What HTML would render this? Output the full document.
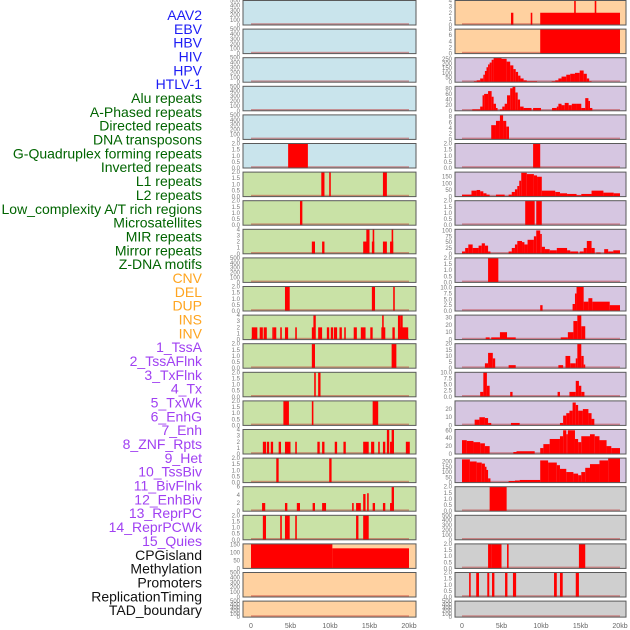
<!DOCTYPE html>
<html><head><meta charset="utf-8"><style>
html,body{margin:0;padding:0;background:#fff;}
svg{display:block;}
</style></head><body>
<svg id="chart" width="630" height="630" viewBox="0 0 630 630" xmlns="http://www.w3.org/2000/svg"></svg>
<script>
const labels = ["AAV2","EBV","HBV","HIV","HPV","HTLV-1","Alu repeats","A-Phased repeats","Directed repeats","DNA transposons","G-Quadruplex forming repeats","Inverted repeats","L1 repeats","L2 repeats","Low_complexity A/T rich regions","Microsatellites","MIR repeats","Mirror repeats","Z-DNA motifs","CNV","DEL","DUP","INS","INV","1_TssA","2_TssAFlnk","3_TxFlnk","4_Tx","5_TxWk","6_EnhG","7_Enh","8_ZNF_Rpts","9_Het","10_TssBiv","11_BivFlnk","12_EnhBiv","13_ReprPC","14_ReprPCWk","15_Quies","CPGisland","Methylation","Promoters","ReplicationTiming","TAD_boundary"];
const labelColors = ["#1c1cf5","#006400","#ffa520","#a040f2","#111111"];
const labelGroups = [0,0,0,0,0,0,1,1,1,1,1,1,1,1,1,1,1,1,1,2,2,2,2,2,3,3,3,3,3,3,3,3,3,3,3,3,3,3,3,4,4,4,4,4];

const ticksEmpty = ["0","100","200","300","400","500"];
const ticksBin = ["0.0","0.5","1.0","1.5","2.0"];

// segments: [startKb, endKb, value]
const aav2 = [], ebv = [], hbv = [], hiv = [], hpv = [];
const htlv1 = [[4.7,7.2,2]];
const alu = [[8.9,9.3,2],[9.9,10.1,2],[16.7,17.2,2]];
const aphased = [[6.2,6.5,2]];
const directed = [[7.7,8.1,2],[9.0,9.3,2],[14.2,14.7,2],[14.6,15.0,4],[15.3,15.6,2],[15.4,15.6,4],[16.7,17.2,2],[17.6,18.0,2],[17.8,18.0,4]];
const dnaTrans = [];
const gquad = [[4.3,4.9,2],[15.3,15.7,2],[18.0,18.2,2]];
const inverted = [[0.1,0.8,2],[1.1,1.5,2],[1.6,2.0,2],[2.7,2.9,2],[2.9,3.2,2],[3.7,3.9,2],[4.3,4.7,2],[5.6,5.8,2],[7.7,8.1,2],[7.9,8.2,4],[8.5,9.0,2],[9.6,9.9,2],[10.1,10.4,2],[10.5,10.9,2],[11.2,11.5,2],[11.8,12.0,2],[13.0,13.4,2],[13.9,14.5,2],[15.1,15.4,2],[16.5,17.0,2],[16.6,16.8,4],[17.9,18.2,2],[18.7,19.9,2],[18.6,18.9,4],[18.9,19.2,4]];
const l1 = [[7.7,8.1,2],[17.8,18.4,2]];
const l2 = [[8.0,8.2,2],[8.5,8.8,2]];
const lowComplex = [[4.1,4.8,2],[7.7,7.9,2],[15.4,16.1,2]];
const microsat = [[1.5,1.9,2],[2.0,2.3,2],[2.5,2.8,2],[3.5,3.8,2],[4.3,5.0,2],[5.6,5.8,2],[8.4,8.7,2],[9.0,9.3,2],[10.6,10.9,2],[11.7,12.0,2],[14.2,14.9,2],[15.2,15.6,2],[16.1,16.3,2],[16.7,17.0,2],[17.2,17.5,4],[17.6,18.0,2],[17.8,18.1,4],[19.6,20.1,2]];
const mir = [[3.2,3.5,2],[9.9,10.2,2]];
const mirror = [[1.4,1.8,2],[4.3,4.6,2],[5.8,6.2,2],[7.8,8.1,2],[9.0,9.5,2],[12.8,13.0,2],[13.3,13.9,2],[14.2,14.5,4.2],[14.7,14.9,4.4],[15.4,15.7,2],[16.7,17.0,2],[17.6,17.9,2],[17.8,18.1,6]];
const zdna = [[1.5,1.9,2],[3.7,3.9,2],[4.3,4.9,2],[5.6,5.8,2],[13.3,13.6,2],[14.2,14.9,2]];
const cnv = [[0,10.3,155],[10.3,20,127]];
const del = [], dup = [];
const ins = [[6.2,6.5,2],[8.7,8.9,2],[9.9,20,2],[14.2,14.4,4],[16.8,17.0,4]];
const inv = [[9.9,20,8]];
const tssA = [[1.5,1.86,10],[1.86,2.3,20],[2.3,2.7,40],[2.7,2.9,80],[2.9,3.1,120],[3.1,3.3,160],[3.3,3.5,190],[3.5,3.75,210],[3.75,4.0,240],[4.0,5.0,260],[5.0,5.65,250],[5.65,6.1,220],[6.1,6.5,180],[6.5,6.8,140],[6.8,7.1,110],[7.1,7.4,70],[7.4,7.8,40],[7.8,8.2,20],[8.2,9.5,10],[11.35,11.8,10],[11.8,12.2,20],[12.2,12.6,40],[12.6,13.2,60],[13.2,13.7,80],[13.7,14.3,90],[14.3,14.9,100],[14.9,15.4,125],[15.4,15.8,90],[15.8,16.1,40],[16.1,16.4,10]];
const tssAFlnk = [[1.3,2.3,5],[2.3,2.6,15],[2.6,2.8,55],[2.8,3.3,60],[3.3,3.75,70],[3.75,4.0,50],[4.0,4.3,25],[4.3,4.5,10],[4.8,5.1,5],[5.1,5.4,15],[5.4,5.7,25],[5.7,6.1,55],[6.1,6.4,80],[6.4,6.75,85],[6.75,7.05,65],[7.05,7.35,40],[7.35,7.8,15],[7.8,8.8,10],[9.0,10.0,10],[11.4,12.0,10],[12.0,12.2,15],[12.2,12.6,25],[12.6,13.0,20],[13.0,13.5,28],[13.5,13.9,20],[13.9,14.5,25],[14.5,15.1,25],[15.1,15.6,10],[15.6,16.0,45],[16.0,16.2,35],[16.2,16.5,10]];
const txFlnk = [[3.7,4.3,5],[4.3,4.8,6.5],[4.8,5.2,8.5],[5.2,5.6,6.5],[5.6,5.95,4.5]];
const tx = [[9.0,9.9,2]];
const txWk = [[0,1.2,15],[1.2,1.85,45],[1.85,2.3,50],[2.3,2.7,40],[2.7,3.1,25],[3.1,3.5,15],[4.3,5.4,15],[5.9,6.3,15],[6.3,6.7,35],[6.7,7.0,55],[7.0,7.25,80],[7.25,7.5,120],[7.5,8.2,180],[8.2,9.1,170],[9.1,9.5,160],[9.5,10.1,150],[10.1,11.8,45],[11.8,12.4,35],[12.4,13.3,25],[13.3,14.5,20],[14.5,15.1,10],[15.1,16.4,20],[16.4,17.9,45],[17.9,19.2,30],[19.2,20,25]];
const enhG = [[8.0,9.2,2],[9.4,10.1,2]];
const enh = [[0,0.4,10],[0.4,0.8,25],[0.8,1.35,40],[1.35,2.1,25],[2.1,2.5,35],[2.5,2.9,45],[2.9,3.3,35],[3.3,3.6,10],[5.9,6.3,10],[6.3,6.7,25],[6.7,7.0,40],[7.0,7.6,55],[7.6,7.9,50],[7.9,8.3,40],[8.3,9.1,60],[9.1,9.4,75],[9.4,9.9,100],[9.9,10.1,85],[10.1,10.5,30],[10.5,11.1,20],[11.1,12.0,15],[12.0,13.3,25],[13.3,13.7,15],[13.7,14.7,10],[14.9,15.4,10],[15.4,15.8,25],[15.8,16.4,55],[16.4,16.8,25],[17.0,17.55,5],[18.0,18.5,20],[18.5,19.15,10],[19.15,20,15]];
const znf = [[3.3,4.6,2]];
const het = [[9.9,10.2,2.5],[14.0,14.3,3],[14.3,14.5,7.5],[14.5,15.4,10.5],[15.4,16.0,4],[16.0,16.5,5.5],[16.5,18.7,4],[18.7,20,2.5]];
const tssBiv = [[3.0,3.5,3],[3.7,4.8,3],[4.8,5.7,10],[5.7,6.8,3],[12.5,13.4,3],[13.4,14.1,10],[14.1,14.6,25],[14.6,15.1,33],[15.1,15.6,18]];
const bivFlnk = [[2.9,3.3,4],[3.3,3.9,12.5],[3.9,4.2,8],[5.9,6.8,2.5],[12.2,12.8,2.5],[13.1,13.7,10],[13.7,14.4,4],[14.4,14.6,8],[14.6,15.1,20],[15.1,15.4,10],[15.4,15.6,3]];
const enhBiv = [[2.3,2.7,2],[2.7,3.15,10],[3.15,3.5,4.5],[6.1,6.4,2],[12.1,12.4,2],[13.6,14.4,2],[14.4,14.8,6.5],[14.8,15.1,4.5],[15.1,15.5,2]];
const reprPC = [[1.6,2.2,7],[2.2,2.9,10],[2.9,3.3,9],[3.3,3.7,3],[6.2,7.3,3],[12.4,12.8,3],[12.8,13.2,12],[13.2,13.6,15],[13.6,14.0,18],[14.0,14.4,28],[14.4,14.7,25],[14.7,15.3,18],[15.3,16.0,20],[16.0,16.4,15],[16.4,16.75,8]];
const reprPCWk = [[0,0.6,35],[0.6,1.45,33],[1.45,2.3,30],[2.3,2.9,27],[2.9,3.5,20],[6.5,6.9,5],[6.9,9.2,7],[9.9,10.3,15],[10.3,11.1,25],[11.1,12.4,38],[12.4,12.8,45],[12.8,13.2,60],[13.2,13.4,50],[13.4,14.3,60],[14.3,14.7,38],[14.7,15.1,30],[15.1,16.2,45],[16.2,16.8,50],[16.8,17.4,45],[17.4,18.3,35],[18.3,18.9,20],[18.9,20,15]];
const quies = [[0,1.0,220],[1.0,1.85,200],[1.85,2.5,190],[2.5,2.9,180],[2.9,3.1,150],[3.1,3.3,120],[3.3,3.6,40],[5.9,6.7,15],[6.7,7.3,20],[7.3,9.9,25],[9.9,10.9,210],[10.9,12.0,190],[12.0,12.4,165],[12.4,13.2,130],[13.2,14.1,100],[14.1,14.7,85],[14.7,15.1,70],[15.1,15.6,100],[15.6,16.2,140],[16.2,17.4,175],[17.4,18.5,210],[18.5,20,230]];
const cpg = [[3.5,5.65,2]];
const methylation = [];
const promoters = [[3.3,3.75,2],[3.75,5.0,2],[5.7,5.9,2],[14.8,15.6,2]];
const repTiming = [[0.9,1.1,2],[1.8,2.15,2],[3.2,3.45,2],[3.8,4.1,2],[5.45,5.75,2],[6.45,6.85,2],[11.65,12.0,2],[12.4,12.75,2],[14.4,14.8,2]];
const tad = [];

const trackData = [aav2,ebv,hbv,hiv,hpv,htlv1,alu,aphased,directed,dnaTrans,gquad,inverted,l1,l2,lowComplex,microsat,mir,mirror,zdna,cnv,del,dup,
  ins,inv,tssA,tssAFlnk,txFlnk,tx,txWk,enhG,enh,znf,het,tssBiv,bivFlnk,enhBiv,reprPC,reprPCWk,quies,cpg,methylation,promoters,repTiming,tad];
const trackMax = [500,500,500,500,500,2,2,2,4,500,2,4,2,2,2,4,2,6,2,155,500,500,
  4,8,262,87,8.6,2,185,2,105,2,10.5,33,20,10,30,62,232,2,500,2,2,500];
const trackTicks = [ticksEmpty,ticksEmpty,ticksEmpty,ticksEmpty,ticksEmpty,ticksBin,ticksBin,ticksBin,["0","1","2","3","4"],ticksEmpty,ticksBin,["0","1","2","3","4"],ticksBin,ticksBin,ticksBin,["0","1","2","3","4"],ticksBin,["0","2","4","6"],ticksBin,["0","50","100","150"],ticksEmpty,ticksEmpty,
  ["0","1","2","3","4"],["0","2","4","6","8"],["0","50","100","150","200","250"],["0","20","40","60","80"],["0","2","4","6","8"],ticksBin,["0","50","100","150"],ticksBin,["0","25","50","75","100"],ticksBin,["0.0","2.5","5.0","7.5","10.0"],["0","10","20","30"],["0","5","10","15","20"],["0.0","2.5","5.0","7.5","10.0"],["0","10","20"],["0","20","40","60"],["0","50","100","150","200"],ticksBin,ticksEmpty,ticksBin,ticksBin,ticksEmpty];
const xTickLabels = ["0","5kb","10kb","15kb","20kb"];
const xTickValues = [0,5,10,15,20];

const svg = document.getElementById('chart');
const NS = 'http://www.w3.org/2000/svg';
function mk(tag, attrs){ const e=document.createElementNS(NS,tag); for(const k in attrs) e.setAttribute(k,attrs[k]); svg.appendChild(e); return e; }

// labels
labels.forEach((t,i)=>{
  const e = mk('text',{x:202,y:(15+i*13.84+5).toFixed(2),'text-anchor':'end','font-family':'Liberation Sans, sans-serif','font-size':14,fill:labelColors[labelGroups[i]]});
  e.textContent = t;
  
  
});

function bgColor(i){
  if(i<6) return '#c9e4ec';
  if(i<19) return '#c9e2a6';
  if(i<24) return '#ffd1a0';
  if(i<39) return '#d6c6e1';
  return '#cfcfcf';
}

const cols = [{x0:243,x1:416,k0:251,k20:409},{x0:455,x1:626,k0:462,k20:620}];
trackData.forEach((segs,i)=>{
  const col = cols[i<22?0:1];
  const row = i%22;
  const top = 0.5 + row*28.6;
  const h = row===21 ? 16 : 24.5;
  const bottom = top + h;
  const xs = kb => col.k0 + (col.k20-col.k0)*kb/20;
  const ys = v => bottom - (h)*v/trackMax[i];
  const name = labels[i].toLowerCase().replace(/[^a-z0-9]+/g,'-');
  const g = document.createElementNS(NS,'g'); svg.appendChild(g);
  
  
  const bg = document.createElementNS(NS,'rect');
  bg.setAttribute('x',col.x0); bg.setAttribute('y',top); bg.setAttribute('width',col.x1-col.x0); bg.setAttribute('height',h);
  bg.setAttribute('fill',bgColor(i));
  
  
  g.appendChild(bg);
  const base = document.createElementNS(NS,'rect');
  base.setAttribute('x',xs(0)); base.setAttribute('y',bottom-1.8); base.setAttribute('width',xs(20)-xs(0)); base.setAttribute('height',1.5);
  base.setAttribute('fill','rgba(190,40,40,0.45)');
  
  
  g.appendChild(base);
  segs.forEach(s=>{
    const r = document.createElementNS(NS,'rect');
    const y = Math.max(top, ys(s[2]));
    r.setAttribute('x',xs(s[0]).toFixed(2)); r.setAttribute('width',Math.max(1.2,xs(s[1])-xs(s[0])).toFixed(2));
    r.setAttribute('y',y.toFixed(2)); r.setAttribute('height',(bottom-y).toFixed(2));
    r.setAttribute('fill','#ff0000');
    
    
    g.appendChild(r);
  });
  const border = document.createElementNS(NS,'rect');
  border.setAttribute('x',col.x0); border.setAttribute('y',top); border.setAttribute('width',col.x1-col.x0); border.setAttribute('height',h);
  border.setAttribute('fill','none'); border.setAttribute('stroke','#5a5a5a'); border.setAttribute('stroke-width',1);
  
  
  g.appendChild(border);
  const ticks = trackTicks[i];
  ticks.forEach(t=>{
    const v = parseFloat(t);
    const tt = document.createElementNS(NS,'text');
    tt.setAttribute('x',col.x0-3); tt.setAttribute('y',(ys(v)+2).toFixed(2));
    tt.setAttribute('text-anchor','end'); tt.setAttribute('font-family','Liberation Sans, sans-serif');
    tt.setAttribute('font-size',6); tt.setAttribute('fill','#777');
    tt.textContent = t;
    
    
    g.appendChild(tt);
  });
});

cols.forEach((col,ci)=>{
  xTickValues.forEach((v,j)=>{
    const t = mk('text',{x:(col.k0+(col.k20-col.k0)*v/20).toFixed(2),y:628,'text-anchor':'middle','font-family':'Liberation Sans, sans-serif','font-size':7,fill:'#666'});
    t.textContent = xTickLabels[j];
    
    
  });
});
</script>
</body></html>
